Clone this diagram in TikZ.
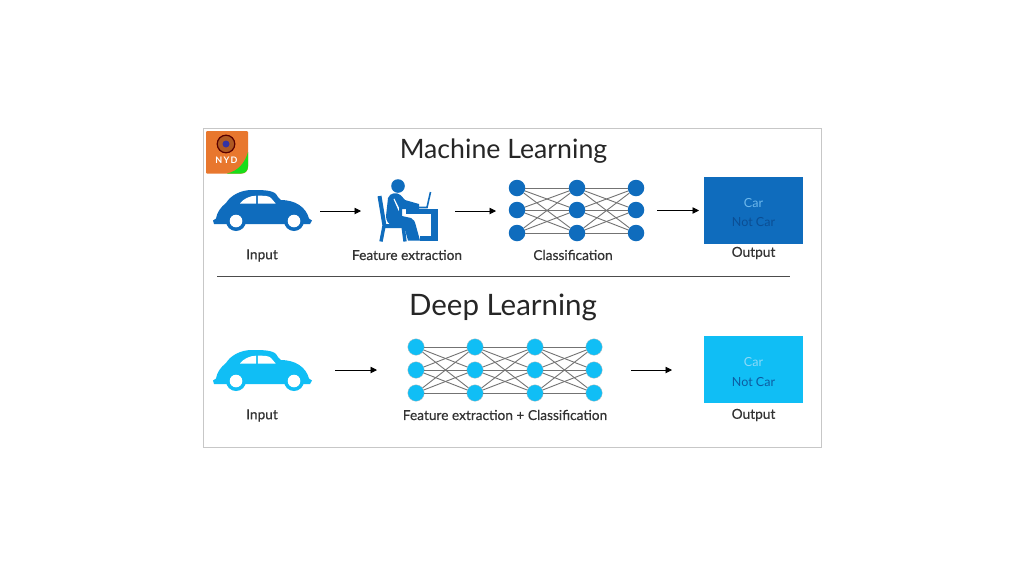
\documentclass[tikz,border=0pt]{standalone}
\usepackage{fontspec}
\setmainfont{Lato}
\usetikzlibrary{arrows.meta}
\definecolor{mlblue}{HTML}{0F6CBD}
\definecolor{dlblue}{HTML}{10BEF5}
\definecolor{logoorange}{HTML}{E8772E}
\definecolor{carlight}{HTML}{6DB8EC}
\definecolor{notcardark}{HTML}{0B4E94}
\tikzset{
  x=1pt,y=-1pt,
  title/.style={text=black!85,inner sep=0pt},
  lab/.style={font=\fontsize{13.7}{15}\selectfont\addfontfeatures{FakeBold=0.4},text=black!80,inner sep=0pt},
  boxtxt/.style={font=\fontsize{12.5}{14}\selectfont,inner sep=0pt},
  flow/.style={draw=black,line width=0.9pt,-{Triangle[length=6.5pt,width=6.5pt]},shorten >=0pt},
  mlnode/.style={circle,fill=mlblue,minimum size=16.5pt,inner sep=0pt},
  dlnode/.style={circle,fill=dlblue,draw=black!25,line width=0.3pt,minimum size=16.5pt,inner sep=0pt},
  wire/.style={draw=black!55,line width=0.9pt},
  outbox/.style={minimum width=99pt,minimum height=67pt,inner sep=0pt},
}
\newcommand{\carshape}[2]{% dy, body colour
  \begin{scope}[yshift=#1]
    \fill[#2] (213,220.5) -- (216,218.5) .. controls (217,212) and (221,207) .. (226,203)
      .. controls (231,195) and (241,190) .. (252,190)
      .. controls (262,190) and (272,190) .. (276,194)
      .. controls (278,197) and (279,199) .. (281,200)
      .. controls (295,200) and (306,207) .. (309,218.5)
      -- (312,220.5) -- (310,224) -- (214,224) -- cycle;
    \fill[#2] (236,221) circle[radius=10];
    \fill[#2] (294,221) circle[radius=10];
    \fill[white] (236,221) circle[radius=6.3];
    \fill[white] (294,221) circle[radius=6.3];
    \fill[white] (240,203.5) .. controls (243,199) and (250,195.7) .. (256,195.7) -- (256,203.5) -- cycle;
    \fill[white] (257.8,195.7) .. controls (264,195.7) and (269,195.7) .. (271,198) -- (275.7,203.5) -- (257.8,203.5) -- cycle;
  \end{scope}}
\begin{document}
\begin{tikzpicture}
\useasboundingbox (0,0) rectangle (1024,576);
\fill[white] (0,0) rectangle (1024,576);
% frame
\draw[black!22,line width=1pt] (203,128) rectangle (821,447);
% logo
\fill[logoorange,rounded corners=1pt] (206,131) -- (248,131) -- (248,166) .. controls (248,171) and (245,173.5) .. (241,173.5) -- (206,173.5) -- cycle;
\fill[green!85!black!90] (248,152) -- (248,166) .. controls (248,171) and (245,173.5) .. (241,173.5) -- (227,173.5) .. controls (238,171) and (245,163) .. (248,152) -- cycle;
\draw[black!65!red,line width=1.2pt,fill=logoorange!75!black] (226,144) circle[radius=8.8];
\fill[blue!55!black!80] (226,144) circle[radius=3.5];
\node[font=\fontsize{9}{10}\selectfont\bfseries\addfontfeatures{LetterSpace=14},text=white,inner sep=0pt] (logotext) at (226.5,160.5) {NYD};
% titles
\node[title,font=\fontsize{26.7}{30}\selectfont] (t1) at (503.5,151) {Machine Learning};
\node[title,font=\fontsize{29.5}{32}\selectfont] (t2) at (503,307) {Deep Learning};
% divider
\coordinate (divl) at (217,276);
\coordinate (divr) at (790,276);
\draw[black!70,line width=0.9pt] (divl) -- (divr);
% cars
\carshape{0}{mlblue}
\carshape{-160}{dlblue}
% person
\fill[mlblue] (398,186) circle[radius=6.8];
\draw[mlblue,line width=4pt] (379.5,196) -- (384.5,226) -- (404,226);
\draw[mlblue,line width=3.4pt] (384,226) -- (381,241.5);
\draw[mlblue,line width=3.4pt] (403,226) -- (405,241.5);
\fill[mlblue] (388,198) .. controls (390,192.5) and (397,192) .. (400.5,195) -- (405,200) -- (419,204) -- (419,209) -- (402,209) -- (402,216)
  -- (411,218) .. controls (414,219) and (415,222) .. (416,226) -- (420,240.5) -- (408,240.5) -- (404,226.5) -- (393,225.5) .. controls (388,224.5) and (386,220) .. (386,216) -- cycle;
\fill[white] (393.5,199) -- (394.3,198.6) -- (399,208) -- (398.7,211) -- cycle;
\fill[mlblue] (406,209) rectangle (437.5,214);
\fill[mlblue] (430.5,214) rectangle (437.5,240.5);
\fill[mlblue] (420,235.5) rectangle (437.5,240.5);
\draw[mlblue,line width=1.6pt] (417,207.5) -- (427,207.5) -- (430.5,192);
% arrows endpoints
\coordinate (a1s) at (320,211); \coordinate (a1e) at (361,211);
\coordinate (a2s) at (455,211); \coordinate (a2e) at (496,211);
\coordinate (a3s) at (657,210.5); \coordinate (a3e) at (699,210.5);
\coordinate (a4s) at (335,370); \coordinate (a4e) at (377,370);
\coordinate (a5s) at (631,370); \coordinate (a5e) at (672,370);
\foreach \i in {1,...,5} \draw[flow] (a\i s) -- (a\i e);
% ML net
\foreach \c/\x in {1/517,2/577,3/636}
  \foreach \r/\y in {1/188,2/210,3/233}
    \node[mlnode] (m\c\r) at (\x,\y) {};
\foreach \a/\b in {1/2,2/3}
  \foreach \i in {1,2,3}
    \foreach \j in {1,2,3}
      \draw[wire] (m\a\i) -- (m\b\j);
% DL net
\foreach \c/\x in {1/416,2/475,3/535,4/594}
  \foreach \r/\y in {1/347,2/370,3/393}
    \node[dlnode] (d\c\r) at (\x,\y) {};
\foreach \a/\b in {1/2,2/3,3/4}
  \foreach \i in {1,2,3}
    \foreach \j in {1,2,3}
      \draw[wire] (d\a\i) -- (d\b\j);
% outputs
\node[outbox,fill=mlblue] (o1) at (753.5,210.5) {};
\node[outbox,fill=dlblue] (o2) at (753.5,369.5) {};
\node[boxtxt,text=carlight] (o1a) at (753.5,203) {Car};
\node[boxtxt,text=notcardark] (o1b) at (753.5,222) {Not Car};
\node[boxtxt,text=cyan!45!white] (o2a) at (753.5,362) {Car};
\node[boxtxt,text=mlblue!85!black] (o2b) at (753.5,382) {Not Car};
% labels
\node[lab] (l1) at (262,255.5) {Input};
\node[lab] (l2) at (407,255) {Feature extraction};
\node[lab] (l3) at (573,255) {Classification};
\node[lab] (l4) at (753.5,253) {Output};
\node[lab] (l5) at (262,415.5) {Input};
\node[lab] (l6) at (505,415) {Feature extraction + Classification};
\node[lab] (l7) at (753.5,415) {Output};
\end{tikzpicture}
\end{document}
